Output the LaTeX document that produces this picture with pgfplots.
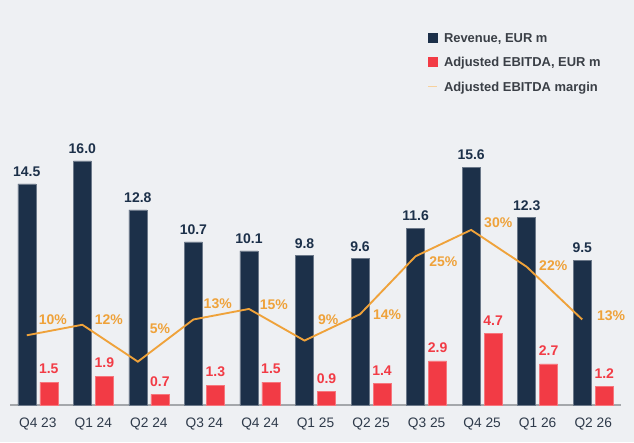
\documentclass[border=0pt]{standalone}
\usepackage{pgfplots}
\pgfplotsset{compat=1.18}
\usepackage{fontspec}
\setmainfont{Liberation Sans}
\definecolor{navy}{HTML}{1C3049}
\definecolor{cred}{HTML}{F23B45}
\definecolor{corange}{HTML}{EFA23A}
\definecolor{bg}{HTML}{EEF0F3}
\definecolor{tickc}{HTML}{2F3B4B}
\definecolor{legtxt}{HTML}{3A3F46}
\definecolor{axisgray}{HTML}{A4A7AB}
\pgfkeys{/pgf/number format/assume math mode=true}
\newcommand{\legf}{\bfseries\fontsize{9.7}{11}\selectfont}
\begin{document}
\begin{tikzpicture}[x=1pt,y=1pt]
\fill[bg] (0,0) rectangle (475.5,331.5);
\useasboundingbox (0,0) rectangle (475.5,331.5);
\begin{axis}[
  at={(7.5pt,27.75pt)}, anchor=south west,
  scale only axis, width=458.25pt, height=228.75pt,
  xmin=-0.5, xmax=10.5, ymin=0, ymax=20,
  axis x line*=bottom, hide y axis,
  x axis line style={draw=axisgray, line width=0.8pt},
  xtick={0,1,2,3,4,5,6,7,8,9,10},
  xticklabels={Q4 23,Q1 24,Q2 24,Q3 24,Q4 24,Q1 25,Q2 25,Q3 25,Q4 25,Q1 26,Q2 26},
  major tick length=0pt,
  xticklabel style={font=\fontsize{10.3}{12}\selectfont, text=tickc, anchor=base, yshift=-16.9pt, inner sep=0pt},
  clip=false,
  legend style={at={(0.684,1.2197)}, anchor=north west, draw=none, fill=none,
    inner sep=0pt, outer sep=0pt, text=legtxt,
    row sep=9.3pt, cells={anchor=base west},
    nodes={inner sep=0pt, text height=7pt, text depth=2pt},
    /tikz/every odd column/.append style={column sep=4.5pt}},
]
\addlegendimage{legend image code/.code={\fill[navy] (0pt,0pt) rectangle (6.75pt,6.75pt);}}
\addlegendentry{\legf Revenue, EUR m}
\addlegendimage{legend image code/.code={\fill[cred] (0pt,0pt) rectangle (6.75pt,6.75pt);}}
\addlegendentry{\legf Adjusted EBITDA, EUR m}
\addlegendimage{legend image code/.code={\draw[corange!50, line width=0.8pt] (0pt,3.4pt) -- (6.75pt,3.4pt);}}
\addlegendentry{\legf Adjusted EBITDA margin}

\addplot[ybar, bar width=13.5pt, bar shift=-8.25pt, fill=navy, draw=navy!65!white, line width=0.4pt, forget plot,
  nodes near coords={\pgfmathprintnumber[fixed,fixed zerofill,precision=1]{\pgfplotspointmeta}},
  every node near coord/.append style={font=\bfseries\fontsize{10.5}{12}\selectfont, text=navy, anchor=base, inner sep=0pt, yshift=5.4pt, xshift=-8.25pt}]
coordinates {(0,14.5) (1,16.0) (2,12.8) (3,10.7) (4,10.1) (5,9.8) (6,9.6) (7,11.6) (8,15.6) (9,12.3) (10,9.5)};

\addplot[ybar, bar width=13.5pt, bar shift=8.25pt, fill=cred, draw=cred!70!white, line width=0.4pt, forget plot,
  nodes near coords={\pgfmathprintnumber[fixed,fixed zerofill,precision=1]{\pgfplotspointmeta}},
  every node near coord/.append style={font=\bfseries\fontsize{10.5}{12}\selectfont, text=cred, anchor=base, inner sep=0pt, yshift=6.2pt, xshift=8.25pt}]
coordinates {(0,1.5) (1,1.9) (2,0.7) (3,1.3) (4,1.5) (5,0.9) (6,1.4) (7,2.9) (8,4.7) (9,2.7) (10,1.2)};
\end{axis}

\begin{axis}[
  at={(7.5pt,27.75pt)}, anchor=south west,
  scale only axis, width=458.25pt, height=228.75pt,
  xmin=-0.302, xmax=10.698, ymin=-3.226, ymax=54.65,
  hide axis, clip=false,
]
\addplot[corange, line width=1.4pt, mark=none]
coordinates {(0,10) (1,12) (2,5) (3,13) (4,15) (5,9) (6,14) (7,25) (8,30) (9,23) (10,13)};
\begin{scope}[every node/.style={font=\bfseries\fontsize{10.5}{12}\selectfont, text=corange, inner sep=0pt}]
\node at (axis cs:0.468,12.9) {10\%};
\node at (axis cs:1.478,12.9) {12\%};
\node at (axis cs:2.398,11.3) {5\%};
\node at (axis cs:3.438,16.0) {13\%};
\node at (axis cs:4.448,15.8) {15\%};
\node at (axis cs:5.428,12.9) {9\%};
\node at (axis cs:6.488,14.0) {14\%};
\node at (axis cs:7.498,23.9) {25\%};
\node at (axis cs:8.488,31.4) {30\%};
\node at (axis cs:9.478,23.3) {22\%};
\node at (axis cs:10.518,13.7) {13\%};
\end{scope}
\end{axis}
\end{tikzpicture}
\end{document}
